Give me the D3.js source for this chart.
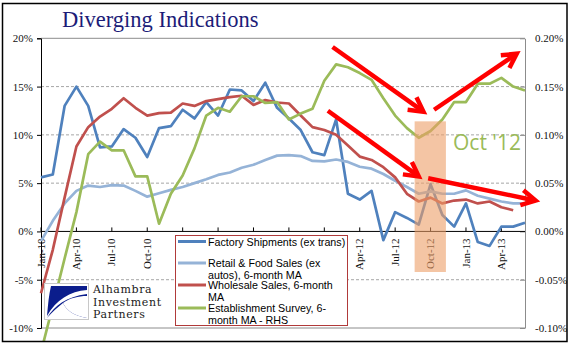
<!DOCTYPE html>
<html>
<head>
<meta charset="utf-8">
<script src="https://cdn.jsdelivr.net/npm/d3@7"></script>
<style>
  body { margin: 0; background: #fff; }
  svg { display: block; }
</style>
</head>
<body>
<svg id="chart" width="574" height="358"></svg>
<script>
// months on the category axis
var months = [
  "Jan-10","Feb-10","Mar-10","Apr-10","May-10","Jun-10","Jul-10","Aug-10","Sep-10","Oct-10","Nov-10","Dec-10",
  "Jan-11","Feb-11","Mar-11","Apr-11","May-11","Jun-11","Jul-11","Aug-11","Sep-11","Oct-11","Nov-11","Dec-11",
  "Jan-12","Feb-12","Mar-12","Apr-12","May-12","Jun-12","Jul-12","Aug-12","Sep-12","Oct-12","Nov-12","Dec-12",
  "Jan-13","Feb-13","Mar-13","Apr-13","May-13","Jun-13"
];
var tickMonths = ["Jan-10","Apr-10","Jul-10","Oct-10","Jan-11","Apr-11","Jul-11","Oct-11",
                  "Jan-12","Apr-12","Jul-12","Oct-12","Jan-13","Apr-13"];

// y/y % change, left axis
var factory = [5.6,5.9,13.0,15.0,13.0,8.7,8.8,10.6,9.7,7.7,10.7,10.9,
               12.6,11.7,13.4,12.0,14.7,14.6,13.5,15.4,12.8,11.7,10.5,8.2,
               7.9,11.6,3.9,3.3,4.2,-0.9,2.0,1.4,0.7,4.9,1.7,0.5,
               2.9,-1.1,-1.5,0.5,0.5,0.9];
var retail = [-1.0,1.1,2.9,4.2,4.75,4.6,4.8,4.75,4.2,3.6,3.95,4.3,
              4.6,5.0,5.4,5.85,6.1,6.6,6.9,7.4,7.85,7.9,7.8,7.3,
              7.25,7.45,7.2,6.7,6.5,5.95,5.25,4.6,3.9,4.15,3.9,3.9,
              4.25,3.7,3.4,3.1,2.9,2.9];
var wholesale = [-6.4,-1.9,3.5,8.8,10.8,11.9,12.7,13.8,12.8,12.0,12.25,12.3,
                 13.25,13.0,13.5,13.7,13.9,14.05,13.1,13.6,13.35,13.25,12.0,10.8,
                 10.5,10.0,8.9,7.75,7.4,6.65,5.6,3.9,3.1,3.5,2.9,3.2,
                 3.3,2.9,3.1,2.5,2.2,null];
// right axis
var establishment = [-0.125,-0.077,-0.028,0.02,0.080,0.093,0.084,0.084,0.057,0.057,0.008,0.039,
                     0.058,0.086,0.120,0.128,0.124,0.140,0.140,0.133,0.134,0.116,0.122,0.127,
                     0.156,0.173,0.170,0.164,0.157,0.138,0.120,0.107,0.097,0.104,0.116,0.134,
                     0.134,0.153,0.153,0.159,0.150,0.146];

var leftTicks = [20,15,10,5,0,-5,-10];
var rightTicks = [0.20,0.15,0.10,0.05,0.00,-0.05,-0.10];
var gridTicks = [15,10,5,-5];

var seriesLabels = [
  ["Factory Shipments (ex trans)"],
  ["Retail & Food Sales (ex", "autos), 6-month MA"],
  ["Wholesale Sales, 6-month", "MA"],
  ["Establishment Survey, 6-", "month MA - RHS"]
];
var seriesColors = ["#4f81bd","#95b3d7","#c0504d","#9bbb59"];
var logoLines = ["Alhambra","Investment","Partners"];

// annotation arrows in (month index, left-axis %) space
var arrows = [
  {from: [24.7, 19.1], to: [32.4, 12.4]},
  {from: [33.3, 12.6], to: [40.3, 18.4]},
  {from: [24.3, 12.5], to: [32.0, 5.7]},
  {from: [32.8, 5.5],  to: [41.9, 3.2]}
];

var svg = d3.select("#chart");
var plotLeft = 41, plotRight = 525, plotTop = 38.3, plotBottom = 328;

var x = d3.scaleLinear().domain([0, months.length - 1]).range([plotLeft, plotRight]);
var yL = d3.scaleLinear().domain([-10, 20]).range([plotBottom, plotTop]);
var yR = d3.scaleLinear().domain([-0.10, 0.20]).range([plotBottom, plotTop]);

svg.append("defs").append("clipPath").attr("id", "clip")
  .append("rect").attr("x", 3).attr("y", 4).attr("width", 563).attr("height", 337);

// title
svg.append("text")
  .attr("x", 62).attr("y", 26.5)
  .style("font", "22.5px 'Liberation Serif', serif")
  .style("fill", "#1c1c78")
  .text("Diverging Indications");

// dashed gridlines
svg.append("g").selectAll("line").data(gridTicks).enter().append("line")
  .attr("x1", plotLeft).attr("x2", plotRight)
  .attr("y1", function(d) { return yL(d); }).attr("y2", function(d) { return yL(d); })
  .style("stroke", "#a6a6a6").style("stroke-dasharray", "3,2").style("stroke-width", 1);

// plot area top / bottom border
[20, -10].forEach(function(v) {
  svg.append("line").attr("x1", plotLeft).attr("x2", plotRight)
    .attr("y1", yL(v)).attr("y2", yL(v))
    .style("stroke", "#8c8c8c").style("stroke-width", 1);
});

// left axis
var gl = svg.append("g").attr("transform", "translate(" + plotLeft + ",0)")
  .call(d3.axisLeft(yL).tickValues(leftTicks).tickFormat(function(d) { return d + "%"; })
    .tickSize(4).tickPadding(4));
gl.select(".domain").style("stroke", "#000");
gl.selectAll(".tick line").style("stroke", "#000");
gl.selectAll("text").style("font", "11px 'Liberation Serif', serif").style("fill", "#111");

// right axis
var gr = svg.append("g").attr("transform", "translate(" + plotRight + ",0)")
  .call(d3.axisRight(yR).tickValues(rightTicks).tickFormat(function(d) { return d.toFixed(2) + "%"; })
    .tickSizeInner(-5).tickSizeOuter(0).tickPadding(10));
gr.select(".domain").style("stroke", "#8c8c8c");
gr.selectAll(".tick line").style("stroke", "#8c8c8c");
gr.selectAll("text").style("font", "11px 'Liberation Serif', serif").style("fill", "#111");

// zero line with quarterly ticks
var y0 = yL(0);
svg.append("line").attr("x1", plotLeft).attr("x2", plotRight).attr("y1", y0).attr("y2", y0)
  .style("stroke", "#000").style("stroke-width", 1);
var xt = svg.append("g");
xt.selectAll("line").data(tickMonths).enter().append("line")
  .attr("x1", function(d) { return x(months.indexOf(d)); })
  .attr("x2", function(d) { return x(months.indexOf(d)); })
  .attr("y1", y0 - 4).attr("y2", y0)
  .style("stroke", "#000");
xt.selectAll("text").data(tickMonths).enter().append("text")
  .attr("transform", function(d) { return "translate(" + x(months.indexOf(d)) + "," + (y0 + 7) + ")rotate(-90)"; })
  .attr("text-anchor", "end").attr("dy", "0.33em")
  .style("font", "11px 'Liberation Serif', serif").style("fill", "#111")
  .text(function(d) { return d; });

// series lines
var line = d3.line()
  .defined(function(d) { return d != null; })
  .x(function(d, i) { return x(i); });

var lines = svg.append("g").attr("clip-path", "url(#clip)");
[factory, retail, wholesale].forEach(function(s, k) {
  lines.append("path").datum(s)
    .attr("d", line.y(function(d) { return yL(d); }))
    .style("fill", "none").style("stroke", seriesColors[k])
    .style("stroke-width", 2.7).style("stroke-linejoin", "round");
});
lines.append("path").datum(establishment)
  .attr("d", line.y(function(d) { return yR(d); }))
  .style("fill", "none").style("stroke", seriesColors[3])
  .style("stroke-width", 2.7).style("stroke-linejoin", "round");

// Oct '12 highlight
svg.append("rect")
  .attr("x", x(31.65)).attr("width", x(34.3) - x(31.65))
  .attr("y", yL(11.4)).attr("height", yL(-4.2) - yL(11.4))
  .style("fill", "#ec9e68").style("opacity", 0.6);

svg.append("text")
  .attr("x", x(34.9)).attr("y", yL(8.45))
  .style("font", "21px 'Open Sans', sans-serif")
  .style("fill", "#9bbb59")
  .text("Oct '12");

// red arrows
var ag = svg.append("g").style("stroke", "#ff0000").style("stroke-width", 4.5)
  .style("fill", "none").style("stroke-linejoin", "miter");
arrows.forEach(function(a) {
  var x1 = x(a.from[0]), y1 = yL(a.from[1]), x2 = x(a.to[0]), y2 = yL(a.to[1]);
  var ang = Math.atan2(y2 - y1, x2 - x1), len = 16, spread = 0.5;
  ag.append("path").attr("d", "M" + x1 + "," + y1 + "L" + (x2 - 3 * Math.cos(ang)) + "," + (y2 - 3 * Math.sin(ang)));
  ag.append("path").attr("d",
    "M" + (x2 - len * Math.cos(ang - spread)) + "," + (y2 - len * Math.sin(ang - spread)) +
    "L" + x2 + "," + y2 +
    "L" + (x2 - len * Math.cos(ang + spread)) + "," + (y2 - len * Math.sin(ang + spread)));
});

// legend
var lg = svg.append("g");
lg.append("rect").attr("x", 175.5).attr("y", 235.5).attr("width", 172).attr("height", 90)
  .style("fill", "#fff").style("stroke", "#b03a3a").style("stroke-width", 1);
var legendY = [241.5, 263, 285, 308];
seriesLabels.forEach(function(lab, k) {
  lg.append("line").attr("x1", 178).attr("x2", 206)
    .attr("y1", legendY[k]).attr("y2", legendY[k])
    .style("stroke", seriesColors[k]).style("stroke-width", 3);
  lab.forEach(function(t, j) {
    lg.append("text").attr("x", 208).attr("y", legendY[k] + 4 + j * 11.5)
      .style("font", "10.7px 'Liberation Sans', Arial, sans-serif")
      .style("fill", "#000").text(t);
  });
});

// logo
var logo = svg.append("g");
logo.append("rect").attr("x", 44.5).attr("y", 283.5).attr("width", 44).attr("height", 36)
  .style("fill", "#fff").style("stroke", "#c8c8c8");
logo.append("path")
  .attr("d", "M51,286 L87,286 L87,290 C70,291 56,300 47,316 C48,304 49,294 51,286 Z")
  .style("fill", "#0b1d8c");
logo.append("path")
  .attr("d", "M47,318 C55,305 66,297 87,294 L87,318 Z M87,318 C74,316 66,310 63,303 C58,307 52,312 47,318 Z")
  .style("fill", "#0b1d8c");
logo.append("path")
  .attr("d", "M87,318 C74,316 66,310 63,303 C70,298 78,296 87,296 Z")
  .style("fill", "#fff");
logoLines.forEach(function(t, i) {
  logo.append("text").attr("x", 93).attr("y", 293 + i * 12.6)
    .style("font", "11px 'DejaVu Serif', serif").style("fill", "#1a1a1a")
    .style("letter-spacing", "0.6px")
    .text(t);
});

// outer frame
svg.append("rect").attr("x", 2.5).attr("y", 3.5).attr("width", 564.5).attr("height", 338)
  .style("fill", "none").style("stroke", "#000").style("stroke-width", 1.5);
</script>
</body>
</html>
